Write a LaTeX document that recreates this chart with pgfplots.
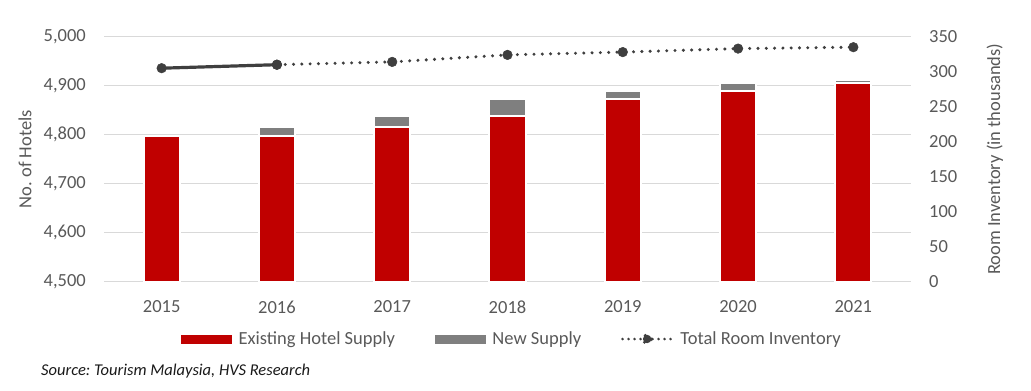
\documentclass[border=0pt]{standalone}
\usepackage{fontspec}
\setmainfont{Carlito}
\usepackage{pgfplots}
\pgfplotsset{compat=1.18}
\definecolor{exred}{HTML}{C00000}
\definecolor{newgray}{HTML}{7F7F7F}
\definecolor{linecol}{HTML}{3F3F3F}
\definecolor{txt}{HTML}{595959}
\definecolor{gridc}{HTML}{D9D9D9}
\begin{document}
\frenchspacing
\begin{tikzpicture}
\useasboundingbox (0,0) rectangle (1031bp,391bp);
\pgfplotsset{
 common/.style={
  at={(104bp,109.3bp)}, anchor=south west,
  scale only axis, width=807bp, height=245bp,
  xmin=-0.5, xmax=6.5,
  font=\fontsize{18.5bp}{22bp}\selectfont,
  /pgf/number format/assume math mode=true,
  major tick length=0pt,
  tick label style={text=txt, inner sep=0pt},
  label style={text=txt},
  axis line style={draw=none},
 }
}
\begin{axis}[common,
  ymin=4500, ymax=5000, ytick={4500,4600,...,5000},
  xtick={0,...,6}, xticklabels={2015,2016,2017,2018,2019,2020,2021},
  xticklabel style={anchor=north, yshift=-19bp},
  yticklabel style={anchor=east, xshift=-18bp, /pgf/number format/1000 sep={,}},
  ymajorgrids, grid style={gridc, line width=1.2bp},
  ylabel={No. of Hotels},
  ylabel style={at={(axis description cs:-0.0979,0.5)}, anchor=center},
  ybar stacked, bar width=36bp,
]
\addplot[fill=exred, draw=white, line width=2bp] coordinates {(0,4798) (1,4798) (2,4815) (3,4838) (4,4873) (5,4889) (6,4905)};
\addplot[fill=newgray, draw=white, line width=2bp] coordinates {(0,0) (1,17) (2,23) (3,35) (4,16) (5,16) (6,7)};
\end{axis}
\begin{axis}[common,
  ymin=0, ymax=350, ytick={0,50,...,350},
  axis x line=none, axis y line*=right,
  yticklabel style={anchor=west, xshift=18bp},
  ylabel={Room Inventory (in thousands)},
  ylabel style={at={(axis description cs:1.104,0.5)}, anchor=center},
  legend style={at={(axis description cs:0.5043,-0.2339)}, anchor=center, draw=none, fill=none,
    legend columns=-1, nodes={inner sep=0pt, text=txt},
    /tikz/every odd column/.append style={column sep=7bp},
    /tikz/every even column/.append style={column sep=40bp}},
]
\addlegendimage{legend image code/.code={\fill[exred] (0bp,-4bp) rectangle (50bp,4bp);}}
\addlegendentry{Existing Hotel Supply}
\addlegendimage{legend image code/.code={\fill[newgray] (0bp,-4bp) rectangle (50bp,4bp);}}
\addlegendentry{New Supply}
\addplot[forget plot, linecol, line width=3.2bp, mark=*, mark size=4.8bp, mark options={fill=linecol, draw=linecol, line width=0.5bp}] coordinates {(0,305) (1,310)};
\addplot[linecol, line width=3.4bp, dash pattern=on 0bp off 8.3bp, line cap=round, mark=*, mark size=4.8bp, mark options={solid, fill=linecol, draw=linecol, line width=0.5bp},
  legend image code/.code={\draw[linecol, line width=2.8bp, dash pattern=on 0bp off 6bp, line cap=round] (1.5bp,0bp) -- (51bp,0bp); \fill[linecol] (26bp,0bp) circle (4.2bp);}]
  coordinates {(1,310) (2,314) (3,324) (4,328) (5,333) (6,335)};
\addlegendentry{Total Room Inventory}
\end{axis}
\node[anchor=west, font=\fontsize{16.5bp}{20bp}\selectfont\itshape, text=black!90, inner sep=0pt] at (41bp,20bp) {Source: Tourism Malaysia, HVS Research};
\end{tikzpicture}
\end{document}
